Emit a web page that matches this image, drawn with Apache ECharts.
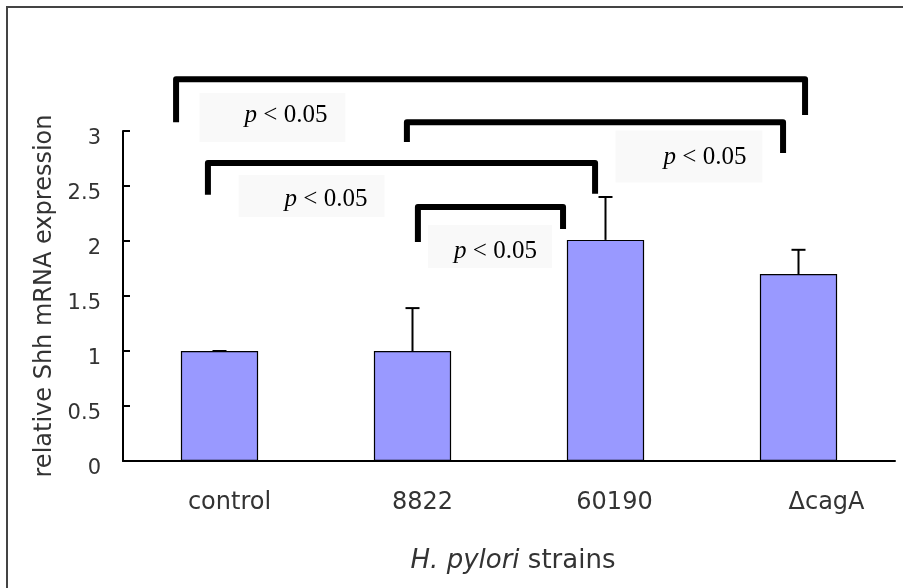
<!DOCTYPE html>
<html>
<head>
<meta charset="utf-8">
<script src="https://cdn.jsdelivr.net/npm/echarts@6/dist/echarts.min.js"></script>
<style>
html,body{margin:0;padding:0;background:#fff;}
#chart{width:903px;height:588px;}
</style>
</head>
<body>
<div id="chart"></div>
<script>
// ---- data ----
const categories = ['control', '8822', '60190', '\u0394cagA'];
const meanValues = [1.0, 1.0, 2.01, 1.70];
const upperValues = [1.0, 1.39, 2.40, 1.92];
const yTicks = [0, 0.5, 1, 1.5, 2, 2.5, 3];
const comparisons = [[0, 3], [1, 3], [0, 2], [1, 2]];
const pText = ['p', ' < 0.05'];

// ---- layout (annotation geometry, in axis units) ----
const bracketLayout = [
  { dl: -0.225, dr: 0.034, top: 3.47, yl: 3.08, yr: 3.145, lx: 0.2746, ly: 3.123 },
  { dl: -0.029, dr: -0.08, top: 3.08, yl: 2.90, yr: 2.80, lx: 2.4326, ly: 2.768 },
  { dl: -0.06, dr: -0.054, top: 2.71, yl: 2.42, yr: 2.43, lx: 0.4767, ly: 2.409 },
  { dl: 0.028, dr: -0.22, top: 2.31, yl: 1.99, yr: 2.11, lx: 1.4016, ly: 1.95 }
];
const labelPad = [
  [10, 18, 14, 45],
  [14, 16, 13, 48],
  [12, 17, 5, 46],
  [14, 15, 4, 26]
];

const chart = echarts.init(document.getElementById('chart'));

const bracketData = comparisons.map((c, i) => {
  const L = bracketLayout[i];
  return [c[0] + L.dl, c[1] + L.dr, L.top, L.yl, L.yr];
});
const labelData = comparisons.map((c, i) => [bracketLayout[i].lx, bracketLayout[i].ly]);
const errData = categories.map((c, i) => [i, meanValues[i], upperValues[i]]);

const option = {
  animation: false,
  backgroundColor: '#fff',
  grid: { left: 123, right: 8, top: 131, bottom: 127, containLabel: false },
  graphic: [{
    type: 'rect', shape: { x: 7, y: 7, width: 920, height: 600 },
    style: { fill: 'none', stroke: '#444', lineWidth: 2 }, silent: true, z: -1
  }],
  xAxis: [{
    type: 'category',
    data: categories.map((c, i) => ({ value: c, textStyle: { padding: [0, 0, 0, [20, 20, 18, 56][i]] } })),
    axisLine: { onZero: false, lineStyle: { color: '#000', width: 2 } },
    axisTick: { inside: true, length: 7, lineStyle: { color: '#000', width: 2 } },
    axisLabel: { fontFamily: 'DejaVu Sans', fontSize: 24, color: '#333', margin: 30 },
    name: '{i|H. pylori} strains',
    nameLocation: 'middle',
    nameGap: 87,
    nameTextStyle: {
      fontFamily: 'DejaVu Sans', fontSize: 26, color: '#333', padding: [0, 0, 0, 8],
      rich: { i: { fontFamily: 'DejaVu Sans', fontStyle: 'italic', fontSize: 26, color: '#333' } }
    },
    splitLine: { show: false }
  }, {
    type: 'value', min: -0.5, max: 3.5, show: false
  }],
  yAxis: [{
    type: 'value', min: 0, max: 3, interval: 0.5,
    axisLine: { show: true, onZero: false, lineStyle: { color: '#000', width: 2 } },
    axisTick: { show: true, inside: true, length: 7, lineStyle: { color: '#000', width: 2 } },
    axisLabel: { fontFamily: 'DejaVu Sans', fontSize: 21, color: '#333', margin: 22, verticalAlign: 'top', lineHeight: 16 },
    splitLine: { show: false },
    name: 'relative Shh mRNA expression',
    nameLocation: 'middle',
    nameRotate: 90,
    nameGap: 62,
    nameTextStyle: { fontFamily: 'DejaVu Sans', fontSize: 24, color: '#333' }
  }],
  series: [{
    type: 'bar',
    data: meanValues,
    barWidth: '40%',
    itemStyle: { color: '#9999FF', borderColor: '#000', borderWidth: 1.2 },
    z: 2
  }, {
    type: 'custom',
    data: errData,
    z: 3,
    renderItem: function (params, api) {
      const base = api.coord([api.value(0), api.value(1)]);
      const top = api.coord([api.value(0), api.value(2)]);
      return {
        type: 'group',
        children: [{
          type: 'line', shape: { x1: base[0], y1: base[1], x2: top[0], y2: top[1] },
          style: { stroke: '#000', lineWidth: 2 }
        }, {
          type: 'line', shape: { x1: top[0] - 7, y1: top[1], x2: top[0] + 7, y2: top[1] },
          style: { stroke: '#000', lineWidth: 2 }
        }]
      };
    }
  }, {
    type: 'custom',
    xAxisIndex: 1,
    data: bracketData,
    clip: false,
    z: 5,
    renderItem: function (params, api) {
      const x1 = api.value(0), x2 = api.value(1), t = api.value(2), yl = api.value(3), yr = api.value(4);
      const p = [api.coord([x1, yl]), api.coord([x1, t]), api.coord([x2, t]), api.coord([x2, yr])];
      return {
        type: 'polyline', shape: { points: p },
        style: { stroke: '#000', lineWidth: 6, fill: null, lineJoin: 'round', lineCap: 'butt' }
      };
    }
  }, {
    type: 'custom',
    xAxisIndex: 1,
    data: labelData,
    clip: false,
    z: 4,
    renderItem: function (params, api) {
      const c = api.coord([api.value(0), api.value(1)]);
      const pad = labelPad[params.dataIndex];
      return {
        type: 'text',
        x: c[0], y: c[1],
        style: {
          text: '{i|' + pText[0] + '}{n|' + pText[1] + '}',
          align: 'center', verticalAlign: 'middle',
          backgroundColor: '#f9f9f9',
          padding: pad,
          rich: {
            i: { fontFamily: 'Liberation Serif', fontStyle: 'italic', fontSize: 25, fill: '#000' },
            n: { fontFamily: 'Liberation Serif', fontSize: 25, fill: '#000' }
          }
        }
      };
    }
  }]
};
chart.setOption(option);
</script>
</body>
</html>
